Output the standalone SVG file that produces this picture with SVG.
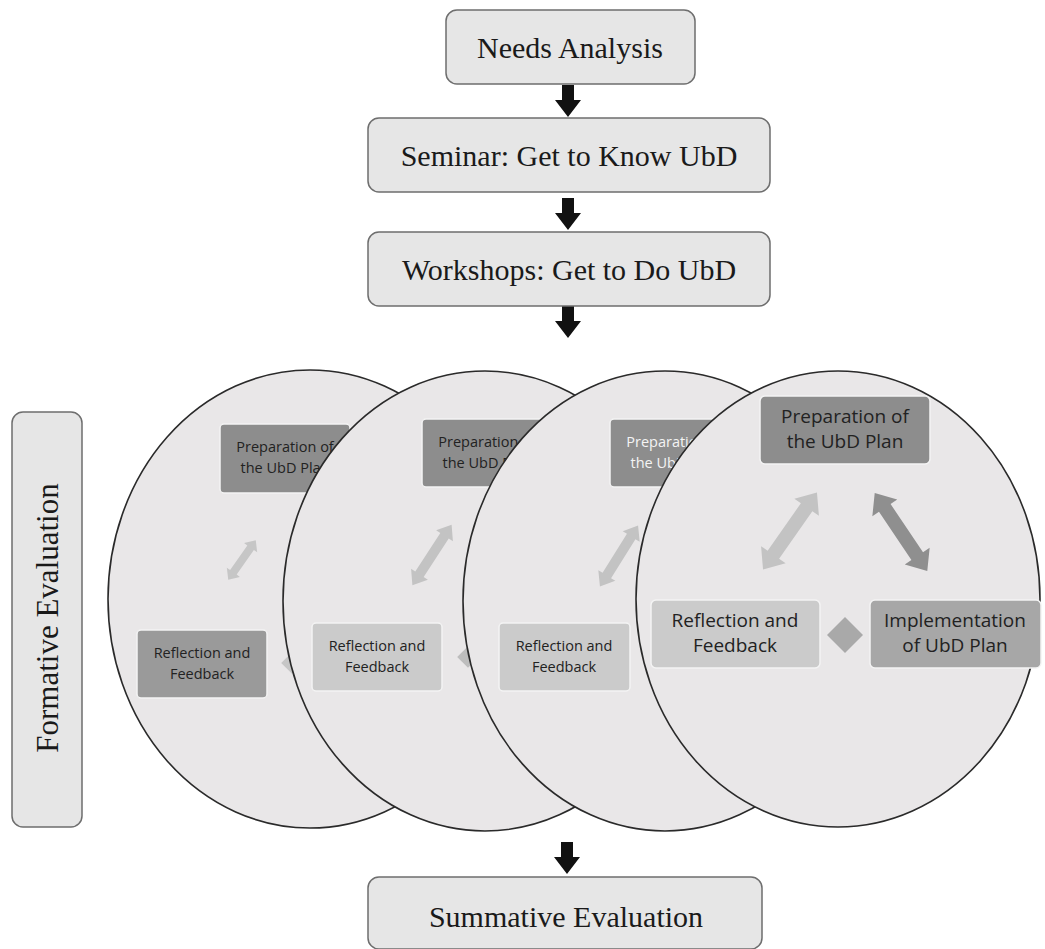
<svg xmlns="http://www.w3.org/2000/svg" width="1045" height="949" viewBox="0 0 1045 949">
<defs>
<style>
.box{fill:#e6e6e6;stroke:#6e6e6e;stroke-width:1.5}
.ttl{font-family:"Liberation Serif","Times New Roman",serif;font-size:30px;fill:#1a1a1a;text-anchor:middle}
.circ{fill:#e9e7e8;stroke:#2a2a2a;stroke-width:1.6}
.ib{stroke:#f4f4f4;stroke-width:1.5}
.it{font-family:"Open Sans","DejaVu Sans",sans-serif;fill:#222;text-anchor:middle}
.s{font-size:14.5px}
.l{font-size:19px}
.dk{fill:#8d8d8d}
.md{fill:#a7a7a7}
.lt{fill:#cbcbcb}
.arr{fill:#111}
</style>
<polygon id="da4" points="-47,0 -29,-15 -29,-7 29,-7 29,-15 47,0 29,15 29,7 -29,7 -29,15"/>
<polygon id="da3" points="-36,0 -23,-10 -23,-5 23,-5 23,-10 36,0 23,10 23,5 -23,5 -23,10"/>
<polygon id="da1" points="-24,0 -15,-8 -15,-4 15,-4 15,-8 24,0 15,8 15,4 -15,4 -15,8"/>
<polygon id="dn" points="-18,0 0,-18 18,0 0,18"/>
<polygon id="down" points="-6,0 6,0 6,15 13,15 0,32 -13,15 -6,15"/>
</defs>

<g id="connectors">
<use href="#down" class="arr" x="568" y="85"/>
<use href="#down" class="arr" x="568" y="198"/>
<use href="#down" class="arr" x="568" y="306"/>
<use href="#down" class="arr" x="567" y="842"/>
</g>

<g id="needs-analysis">
<rect class="box" x="446" y="10" width="249" height="74" rx="11"/>
<text class="ttl" x="570" y="58">Needs Analysis</text>
</g>
<g id="seminar">
<rect class="box" x="368" y="118" width="402" height="74" rx="11"/>
<text class="ttl" x="569" y="166">Seminar: Get to Know UbD</text>
</g>
<g id="workshops">
<rect class="box" x="368" y="232" width="402" height="74" rx="11"/>
<text class="ttl" x="569" y="280">Workshops: Get to Do UbD</text>
</g>

<g id="formative-evaluation">
<rect class="box" x="12" y="412" width="70" height="415" rx="11"/>
<text class="ttl" style="font-size:31px" transform="translate(58,618) rotate(-90)">Formative Evaluation</text>
</g>

<g id="cycle-1">
<ellipse class="circ" cx="310" cy="599" rx="202" ry="229"/>
<rect class="ib dk" x="220" y="424" width="130" height="69" rx="4"/>
<text class="it s" x="285" y="452">Preparation of</text>
<text class="it s" x="285" y="473">the UbD Plan</text>
<use href="#da1" fill="#c6c6c6" transform="translate(242,560) rotate(-55)"/>
<rect class="ib" fill="#9a9a9a" x="137" y="630" width="130" height="68" rx="4"/>
<text class="it s" x="202" y="658">Reflection and</text>
<text class="it s" x="202" y="679">Feedback</text>
<use href="#dn" fill="#c6c6c6" transform="translate(292,663) scale(0.6)"/>
</g>

<g id="cycle-2">
<ellipse class="circ" cx="485" cy="601" rx="202" ry="230"/>
<rect class="ib dk" x="422" y="419" width="130" height="68" rx="4"/>
<text class="it s" x="487" y="447">Preparation of</text>
<text class="it s" x="487" y="468">the UbD Plan</text>
<use href="#da3" fill="#c3c3c3" transform="translate(432,555) rotate(-57)"/>
<rect class="ib lt" x="312" y="623" width="130" height="68" rx="4"/>
<text class="it s" x="377" y="651">Reflection and</text>
<text class="it s" x="377" y="672">Feedback</text>
<use href="#dn" fill="#bdbdbd" transform="translate(468,657) scale(0.6)"/>
</g>

<g id="cycle-3">
<ellipse class="circ" cx="665" cy="601" rx="202" ry="230"/>
<rect class="ib dk" x="610" y="419" width="130" height="68" rx="4"/>
<text class="it s" x="675" y="447" style="fill:#f4f4f4">Preparation of</text>
<text class="it s" x="675" y="468" style="fill:#f4f4f4">the UbD Plan</text>
<use href="#da3" fill="#c3c3c3" transform="translate(619,556) rotate(-58)"/>
<rect class="ib lt" x="499" y="623" width="131" height="68" rx="4"/>
<text class="it s" x="564" y="651">Reflection and</text>
<text class="it s" x="564" y="672">Feedback</text>
</g>

<g id="cycle-4">
<ellipse class="circ" cx="838" cy="599" rx="202" ry="228"/>
<rect class="ib dk" x="760" y="396" width="170" height="68" rx="5"/>
<text class="it l" x="845" y="423">Preparation of</text>
<text class="it l" x="845" y="448">the UbD Plan</text>
<use href="#da4" fill="#c3c3c3" transform="translate(790,531) rotate(-55)"/>
<use href="#da4" fill="#8f8f8f" transform="translate(901,532) rotate(56)"/>
<rect class="ib lt" x="651" y="600" width="169" height="68" rx="5"/>
<text class="it l" x="735" y="627">Reflection and</text>
<text class="it l" x="735" y="652">Feedback</text>
<use href="#dn" fill="#a9a9a9" transform="translate(845,635)"/>
<rect class="ib md" x="870" y="600" width="171" height="68" rx="5"/>
<text class="it l" x="955" y="627">Implementation</text>
<text class="it l" x="955" y="652">of UbD Plan</text>
</g>

<g id="summative-evaluation">
<rect class="box" x="368" y="877" width="394" height="72" rx="11"/>
<text class="ttl" x="566" y="927">Summative Evaluation</text>
</g>
</svg>
